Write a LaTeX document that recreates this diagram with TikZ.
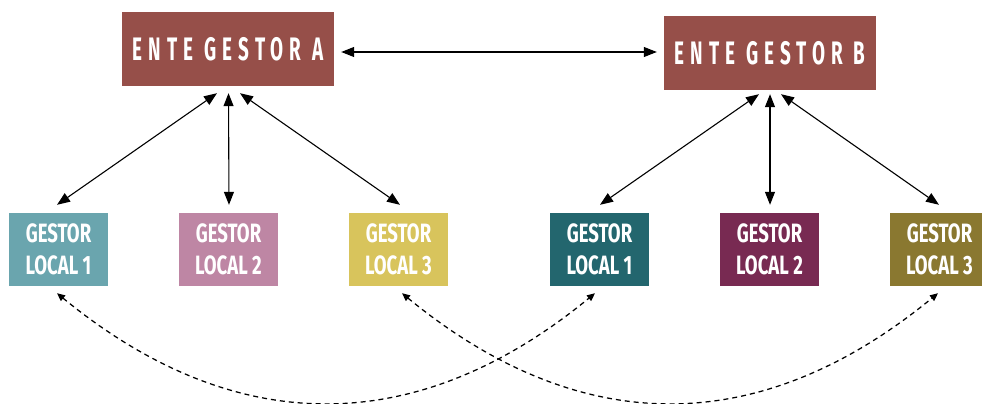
\documentclass[tikz,border=0pt]{standalone}
\usepackage{fontspec}
\newfontfamily\bebas[FakeStretch=0.7]{Fira Sans}
\newfontfamily\bebaswide[FakeStretch=0.58,LetterSpace=19]{Fira Sans}
\usetikzlibrary{arrows.meta,calc}
\definecolor{enteC}{HTML}{964F49}
\definecolor{laC}{HTML}{6AA5AE}
\definecolor{lbC}{HTML}{BE86A4}
\definecolor{lcC}{HTML}{D8C45C}
\definecolor{raC}{HTML}{23666E}
\definecolor{rbC}{HTML}{782A52}
\definecolor{rcC}{HTML}{8A7830}
\begin{document}
\begin{tikzpicture}[x=1pt,y=-1pt,
  entebox/.style={fill=enteC, minimum width=212pt, minimum height=74pt, inner sep=0pt, text=white,
    font=\bebaswide\bfseries\fontsize{32.5}{34}\selectfont},
  localbox/.style={minimum width=99pt, minimum height=73pt, inner sep=0pt, text=white, align=center,
    font=\bebas\bfseries\fontsize{26.5}{32}\selectfont},
  link/.style={{Triangle[length=13pt,width=10pt]}-{Triangle[length=13pt,width=10pt]}, line width=1.1pt},
  dlink/.style={{Triangle[length=8pt,width=7pt]}-{Triangle[length=8pt,width=7pt]}, line width=1.25pt, dash pattern=on 5pt off 4pt}]
\useasboundingbox[fill=white] (0,0) rectangle (982,404);
\node[entebox] (A) at (228,49) {ENTE GESTOR A};
\node[entebox] (B) at (770,53) {ENTE GESTOR B};
\node[localbox, fill=laC] (L1) at (58.5,249.5) {GESTOR\\LOCAL 1};
\node[localbox, fill=lbC] (L2) at (228.5,249.5) {GESTOR\\LOCAL 2};
\node[localbox, fill=lcC] (L3) at (398.5,249.5) {GESTOR\\LOCAL 3};
\node[localbox, fill=raC] (R1) at (599.5,249.5) {GESTOR\\LOCAL 1};
\node[localbox, fill=rbC] (R2) at (769.5,249.5) {GESTOR\\LOCAL 2};
\node[localbox, fill=rcC] (R3) at (939.5,249.5) {GESTOR\\LOCAL 3};
\draw[link] ($(A.east)+(7,3)$) -- ($(B.west)+(-7,-1)$);
\draw[link] ($(A.south)+(-11,7)$) -- ($(L1.north)+(-1.5,-8)$);
\draw[link] ($(A.south)+(0.5,7)$) -- ($(L2.north)+(0.5,-8)$);
\draw[link] ($(A.south)+(12,7)$) -- ($(L3.north)+(1.5,-8)$);
\draw[link] ($(B.south)+(-11,4)$) -- ($(R1.north)+(0.5,-8)$);
\draw[link] ($(B.south)+(0,4)$) -- ($(R2.north)+(0.5,-8)$);
\draw[link] ($(B.south)+(11,4)$) -- ($(R3.north)+(-0.5,-8)$);
\draw[dlink] ($(L1.south)+(-1.5,7)$) .. controls +(178,146) and +(-178,146) .. ($(R1.south)+(-4.5,7)$);
\draw[dlink] ($(L3.south)+(3.5,7)$) .. controls +(178,146) and +(-178,146) .. ($(R3.south)+(-1.5,7)$);
\end{tikzpicture}
\end{document}
